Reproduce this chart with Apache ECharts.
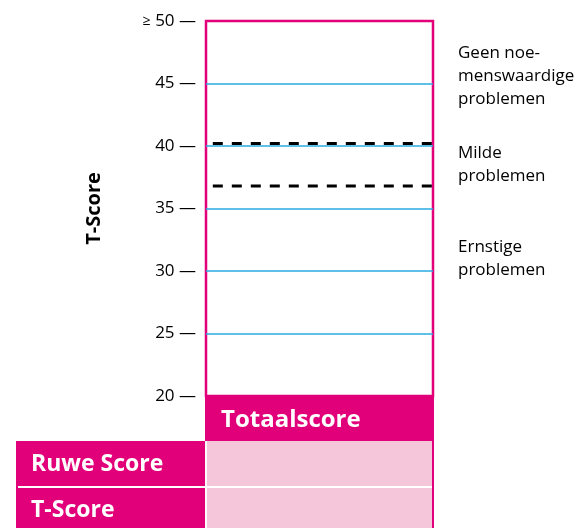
<!DOCTYPE html>
<html>
<head>
<meta charset="utf-8">
<script src="https://cdn.jsdelivr.net/npm/echarts@6/dist/echarts.min.js"></script>
<style>
  html, body { margin: 0; padding: 0; background: #fff; }
  #chart { width: 580px; height: 528px; }
</style>
</head>
<body>
<div id="chart"></div>
<script>
// values
const yMin = 20;
const yMax = 50;
const yStep = 5;
const cutoffs = [40.2, 36.8];          // dashed boundaries between bands
const bandLabels = ['Geen noe-\nmenswaardige\nproblemen', 'Milde\nproblemen', 'Ernstige\nproblemen'];
const columnLabel = 'Totaalscore';
const rowLabels = ['Ruwe Score', 'T-Score'];
const axisTitle = 'T-Score';

const MAGENTA = '#e2007a';
const PINK = '#f5c6da';
const BLUE = '#29abe2';
const FONT = 'Open Sans';

const chart = echarts.init(document.getElementById('chart'));

let option = {
  animation: false,
  grid: {
    left: 206,
    right: 147,
    top: 21,
    bottom: 132,
    show: true,
    backgroundColor: '#fff',
    borderColor: MAGENTA,
    borderWidth: 2.5
  },
  xAxis: {
    type: 'value',
    min: 0,
    max: 1,
    show: false
  },
  yAxis: {
    type: 'value',
    min: yMin,
    max: yMax,
    interval: yStep,
    name: axisTitle,
    nameLocation: 'middle',
    nameGap: 102,
    nameTextStyle: {fontFamily: FONT, fontWeight: 'bold', fontSize: 20, color: '#000'},
    axisLine: {show: false},
    axisTick: {show: false},
    axisLabel: {
      margin: 10,
      fontFamily: FONT,
      fontSize: 17,
      color: '#000',
      formatter: v => (v === yMax ? '{s|\u2265} ' + v : v) + ' \u2014',
      rich: {s: {fontFamily: FONT, fontSize: 14, color: '#000'}}
    },
    splitLine: {
      show: true,
      showMinLine: false,
      showMaxLine: false,
      lineStyle: {color: BLUE, width: 1.5}
    }
  },
  series: cutoffs.map(c => ({
    type: 'line',
    data: [[0.03, c], [1, c]],
    symbol: 'none',
    silent: true,
    z: 5,
    lineStyle: {color: '#000', width: 3, type: [10, 9]}
  })),
  graphic: [
    // header cell
    {type: 'rect', shape: {x: 205, y: 395, width: 229, height: 46}, style: {fill: MAGENTA}},
    {type: 'text', style: {x: 221, y: 420, verticalAlign: 'middle', text: columnLabel, fill: '#fff', font: 'bold 24px "' + FONT + '"'}},
    // row header block and value cells
    {type: 'rect', shape: {x: 16, y: 441, width: 189, height: 87}, style: {fill: MAGENTA}},
    {type: 'rect', shape: {x: 207, y: 441, width: 225, height: 87}, style: {fill: PINK}},
    {type: 'rect', shape: {x: 432, y: 441, width: 2, height: 87}, style: {fill: MAGENTA}},
    {type: 'rect', shape: {x: 18, y: 486, width: 414, height: 2}, style: {fill: '#fff'}},
    {type: 'text', style: {x: 31, y: 464, verticalAlign: 'middle', text: rowLabels[0], fill: '#fff', font: 'bold 23px "' + FONT + '"'}},
    {type: 'text', style: {x: 31, y: 510, verticalAlign: 'middle', text: rowLabels[1], fill: '#fff', font: 'bold 23px "' + FONT + '"'}},
    // band labels on the right
    {type: 'text', left: 458, top: 42, style: {text: bandLabels[0], fill: '#000', font: '17px "' + FONT + '"', lineHeight: 23}},
    {type: 'text', left: 458, top: 142, style: {text: bandLabels[1], fill: '#000', font: '17px "' + FONT + '"', lineHeight: 23}},
    {type: 'text', left: 458, top: 236, style: {text: bandLabels[2], fill: '#000', font: '17px "' + FONT + '"', lineHeight: 23}}
  ]
};
chart.setOption(option);
</script>
</body>
</html>
